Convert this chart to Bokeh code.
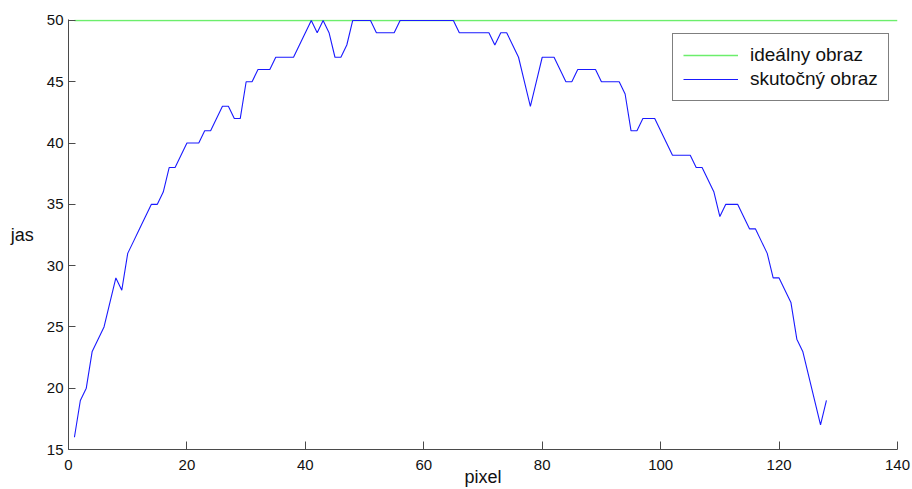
from bokeh.plotting import figure
from bokeh.models import Range1d, Legend, LegendItem, FixedTicker
from bokeh.embed import file_html
from bokeh.resources import INLINE

# ---- data ----
pixel = list(range(1, 129))
skutocny = [16, 19, 20, 23, 24, 25, 27, 29, 28, 31,
            32, 33, 34, 35, 35, 36, 38, 38, 39, 40,
            40, 40, 41, 41, 42, 43, 43, 42, 42, 45,
            45, 46, 46, 46, 47, 47, 47, 47, 48, 49,
            50, 49, 50, 49, 47, 47, 48, 50, 50, 50,
            50, 49, 49, 49, 49, 50, 50, 50, 50, 50,
            50, 50, 50, 50, 50, 49, 49, 49, 49, 49,
            49, 48, 49, 49, 48, 47, 45, 43, 45, 47,
            47, 47, 46, 45, 45, 46, 46, 46, 46, 45,
            45, 45, 45, 44, 41, 41, 42, 42, 42, 41,
            40, 39, 39, 39, 39, 38, 38, 37, 36, 34,
            35, 35, 35, 34, 33, 33, 32, 31, 29, 29,
            28, 27, 24, 23, 21, 19, 17, 19]
ideal_x = [1, 140]
ideal_y = [50, 50]
x_ticks = [0, 20, 40, 60, 80, 100, 120, 140]
y_ticks = [15, 20, 25, 30, 35, 40, 45, 50]
label_ideal = "ideálny obraz"
label_real = "skutočný obraz"

FONT = "Liberation Sans"

p = figure(width=912, height=489,
           x_range=Range1d(0, 140), y_range=Range1d(15, 50.08),
           output_backend="svg", toolbar_location=None,
           min_border_left=68, min_border_right=15,
           min_border_top=19, min_border_bottom=39)
p.outline_line_color = None
p.grid.visible = False
p.background_fill_color = "white"
p.border_fill_color = "white"

r_ideal = p.line(ideal_x, ideal_y, line_color="#6cee6c", line_width=1.5)
r_real = p.line(pixel, skutocny, line_color="#1a1aff", line_width=1.1)

for ax in (p.xaxis[0], p.yaxis[0]):
    ax.axis_line_color = "#4a4a4a"
    ax.major_tick_line_color = "#4a4a4a"
    ax.major_tick_out = 0
    ax.minor_tick_in = 0
    ax.minor_tick_out = 0
    ax.major_label_text_font = FONT
    ax.major_label_text_font_size = "15px"
    ax.major_label_text_color = "#111111"
    ax.axis_label_text_font = FONT
    ax.axis_label_text_font_size = "18px"
    ax.axis_label_text_font_style = "normal"
    ax.axis_label_text_color = "#111111"

p.xaxis.ticker = FixedTicker(ticks=x_ticks)
p.yaxis.ticker = FixedTicker(ticks=y_ticks)
p.xaxis.major_tick_in = 8
p.yaxis.major_tick_in = 7
p.xaxis.major_label_standoff = 10
p.yaxis.major_label_standoff = 5
p.xaxis.axis_label = "pixel"
p.xaxis.axis_label_standoff = -6
p.yaxis.axis_label = "jas"
p.yaxis.axis_label_orientation = "horizontal"
p.yaxis.axis_label_standoff = 10

legend = Legend(items=[LegendItem(label=label_ideal, renderers=[r_ideal]),
                       LegendItem(label=label_real, renderers=[r_real])],
                location=(604, 348))
legend.label_text_font = FONT
legend.label_text_font_size = "19px"
legend.label_text_color = "#111111"
legend.glyph_width = 55
legend.glyph_height = 20
legend.label_standoff = 12
legend.padding = 10
legend.spacing = 2
legend.margin = 0
legend.border_line_color = "black"
legend.border_line_width = 1
legend.background_fill_alpha = 1.0
p.add_layout(legend)

open("out.html", "w").write(file_html(p, INLINE))
